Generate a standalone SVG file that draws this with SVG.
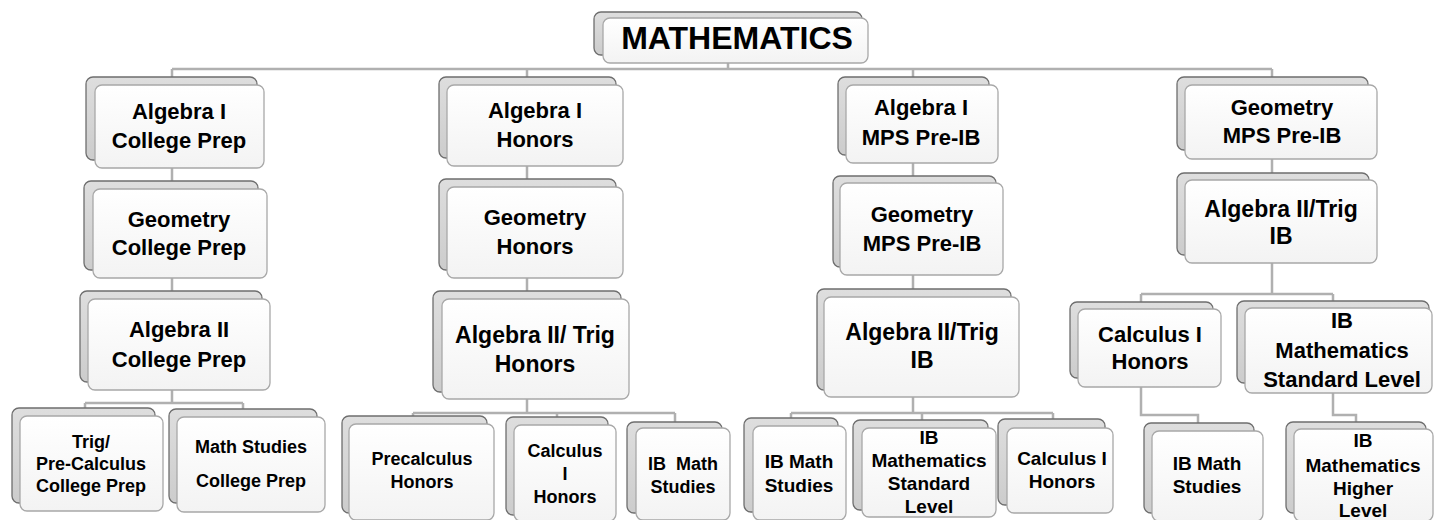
<svg xmlns="http://www.w3.org/2000/svg" width="1434" height="520" viewBox="0 0 1434 520">
<defs>
<linearGradient id="gb" x1="0" y1="0" x2="0" y2="1"><stop offset="0" stop-color="#dedede"/><stop offset="1" stop-color="#cccccc"/></linearGradient>
<linearGradient id="gf" x1="0" y1="0" x2="0" y2="1"><stop offset="0" stop-color="#ffffff"/><stop offset="1" stop-color="#f3f3f3"/></linearGradient>
<style>
.bk{fill:url(#gb);stroke:#6e6e6e;stroke-width:1.3}
.fr{fill:url(#gf);stroke:#a8a8a8;stroke-width:1.3}
.t{font-family:"Liberation Sans",Arial,sans-serif;font-weight:bold;fill:#000;text-anchor:middle}
.s22{font-size:22px}.s23{font-size:23px}.s18{font-size:18px}.s19{font-size:19px}
.c{fill:none;stroke:#b0b0b0;stroke-width:2.5}
</style>
</defs>
<rect width="1434" height="520" fill="#fff"/>
<g id="connectors" class="c">
<path d="M728 63V69M172 69H1272M172 69V77M527 69V77M913 69V77M1272 69V77"/>
<path d="M172 168V181M172 278V291M172 390V403M85 403H243M85 403V408M243 403V409"/>
<path d="M527 166V179M527 278V291M527 399V413M413 413H675M413 413V416M557 413V417M675 413V422"/>
<path d="M913 163V176M913 275V289M913 397V413M791 413H1053M791 413V418M922 413V420M1053 413V419"/>
<path d="M1272 159V173M1272 263V294M1141 294H1333M1141 294V302M1333 294V301"/>
<path d="M1141 387V415H1198V423M1333 393V415H1356V422"/>
</g>
<g id="n-math"><rect class="bk" x="594" y="12" width="268" height="43" rx="7"/><rect class="fr" x="603" y="18" width="265" height="45" rx="7"/><text class="t" x="737" y="49" font-size="32">MATHEMATICS</text></g>

<g id="n-alg1-cp"><rect class="bk" x="86" y="77" width="171" height="83" rx="7"/><rect class="fr" x="95" y="85" width="169" height="83" rx="7"/><text class="t s22"><tspan x="179" y="119">Algebra I</tspan><tspan x="179" y="148">College Prep</tspan></text></g>
<g id="n-geo-cp"><rect class="bk" x="84" y="181" width="174" height="89" rx="7"/><rect class="fr" x="93" y="189" width="174" height="89" rx="7"/><text class="t s22"><tspan x="179" y="227">Geometry</tspan><tspan x="179" y="255">College Prep</tspan></text></g>
<g id="n-alg2-cp"><rect class="bk" x="80" y="291" width="182" height="91" rx="7"/><rect class="fr" x="88" y="299" width="182" height="91" rx="7"/><text class="t s22"><tspan x="179" y="337">Algebra II</tspan><tspan x="179" y="367">College Prep</tspan></text></g>
<g id="n-trig-cp"><rect class="bk" x="12" y="408" width="143" height="95" rx="7"/><rect class="fr" x="20" y="416" width="143" height="95" rx="7"/><text class="t s18"><tspan x="91" y="448">Trig/</tspan><tspan x="91" y="470">Pre-Calculus</tspan><tspan x="91" y="492">College Prep</tspan></text></g>
<g id="n-ms-cp"><rect class="bk" x="169" y="409" width="148" height="94" rx="7"/><rect class="fr" x="177" y="417" width="148" height="95" rx="7"/><text class="t s18"><tspan x="251" y="453">Math Studies</tspan><tspan x="251" y="487">College Prep</tspan></text></g>

<g id="n-alg1-h"><rect class="bk" x="439" y="77" width="177" height="81" rx="7"/><rect class="fr" x="447" y="85" width="176" height="81" rx="7"/><text class="t s22"><tspan x="535" y="118">Algebra I</tspan><tspan x="535" y="147">Honors</tspan></text></g>
<g id="n-geo-h"><rect class="bk" x="439" y="179" width="177" height="91" rx="7"/><rect class="fr" x="447" y="187" width="176" height="91" rx="7"/><text class="t s22"><tspan x="535" y="225">Geometry</tspan><tspan x="535" y="254">Honors</tspan></text></g>
<g id="n-alg2-h"><rect class="bk" x="433" y="291" width="188" height="101" rx="7"/><rect class="fr" x="442" y="299" width="187" height="100" rx="7"/><text class="t s23"><tspan x="535" y="343">Algebra II/ Trig</tspan><tspan x="535" y="372">Honors</tspan></text></g>
<g id="n-precalc-h"><rect class="bk" x="342" y="416" width="145" height="97" rx="7"/><rect class="fr" x="349" y="424" width="145" height="96" rx="7"/><text class="t s18"><tspan x="422" y="465">Precalculus</tspan><tspan x="422" y="488">Honors</tspan></text></g>
<g id="n-calc-h2"><rect class="bk" x="506" y="417" width="102" height="98" rx="7"/><rect class="fr" x="514" y="425" width="102" height="96" rx="7"/><text class="t s18"><tspan x="565" y="457">Calculus</tspan><tspan x="565" y="480">I</tspan><tspan x="565" y="503">Honors</tspan></text></g>
<g id="n-ibms2"><rect class="bk" x="627" y="422" width="95" height="91" rx="7"/><rect class="fr" x="636" y="428" width="94" height="92" rx="7"/><text class="t s18" xml:space="preserve"><tspan x="683" y="470">IB  Math</tspan><tspan x="683" y="493">Studies</tspan></text></g>

<g id="n-alg1-m"><rect class="bk" x="838" y="77" width="151" height="78" rx="7"/><rect class="fr" x="846" y="85" width="152" height="78" rx="7"/><text class="t s22"><tspan x="921" y="115">Algebra I</tspan><tspan x="921" y="145">MPS Pre-IB</tspan></text></g>
<g id="n-geo-m"><rect class="bk" x="833" y="176" width="163" height="91" rx="7"/><rect class="fr" x="840" y="183" width="163" height="92" rx="7"/><text class="t s22"><tspan x="922" y="222">Geometry</tspan><tspan x="922" y="251">MPS Pre-IB</tspan></text></g>
<g id="n-alg2-ib3"><rect class="bk" x="817" y="289" width="194" height="101" rx="7"/><rect class="fr" x="824" y="297" width="195" height="100" rx="7"/><text class="t s23"><tspan x="922" y="340">Algebra II/Trig</tspan><tspan x="922" y="368">IB</tspan></text></g>
<g id="n-ibms3"><rect class="bk" x="744" y="418" width="94" height="94" rx="7"/><rect class="fr" x="753" y="426" width="93" height="94" rx="7"/><text class="t s19"><tspan x="799" y="468">IB Math</tspan><tspan x="799" y="492">Studies</tspan></text></g>
<g id="n-ibsl3"><rect class="bk" x="853" y="420" width="135" height="90" rx="7"/><rect class="fr" x="862" y="428" width="134" height="89" rx="7"/><text class="t s19"><tspan x="929" y="444">IB</tspan><tspan x="929" y="467">Mathematics</tspan><tspan x="929" y="490">Standard</tspan><tspan x="929" y="513">Level</tspan></text></g>
<g id="n-calc-h3"><rect class="bk" x="998" y="419" width="107" height="86" rx="7"/><rect class="fr" x="1007" y="428" width="106" height="85" rx="7"/><text class="t s19"><tspan x="1062" y="465">Calculus I</tspan><tspan x="1062" y="488">Honors</tspan></text></g>

<g id="n-geo-m4"><rect class="bk" x="1177" y="77" width="191" height="73" rx="7"/><rect class="fr" x="1185" y="85" width="192" height="74" rx="7"/><text class="t s22"><tspan x="1282" y="115">Geometry</tspan><tspan x="1282" y="143">MPS Pre-IB</tspan></text></g>
<g id="n-alg2-ib4"><rect class="bk" x="1177" y="173" width="192" height="82" rx="7"/><rect class="fr" x="1185" y="180" width="192" height="83" rx="7"/><text class="t s23"><tspan x="1281" y="217">Algebra II/Trig</tspan><tspan x="1281" y="244">IB</tspan></text></g>
<g id="n-calc-h4"><rect class="bk" x="1070" y="302" width="143" height="76" rx="7"/><rect class="fr" x="1078" y="309" width="143" height="78" rx="7"/><text class="t s22"><tspan x="1150" y="342">Calculus I</tspan><tspan x="1150" y="369">Honors</tspan></text></g>
<g id="n-ibsl4"><rect class="bk" x="1237" y="301" width="192" height="82" rx="7"/><rect class="fr" x="1245" y="308" width="187" height="85" rx="7"/><text class="t s22"><tspan x="1342" y="328">IB</tspan><tspan x="1342" y="358">Mathematics</tspan><tspan x="1342" y="387">Standard Level</tspan></text></g>
<g id="n-ibms4"><rect class="bk" x="1144" y="423" width="110" height="90" rx="7"/><rect class="fr" x="1152" y="431" width="111" height="90" rx="7"/><text class="t s19"><tspan x="1207" y="470">IB Math</tspan><tspan x="1207" y="493">Studies</tspan></text></g>
<g id="n-ibhl"><rect class="bk" x="1286" y="422" width="140" height="91" rx="7"/><rect class="fr" x="1294" y="429" width="139" height="92" rx="7"/><text class="t s19"><tspan x="1363" y="447">IB</tspan><tspan x="1363" y="472">Mathematics</tspan><tspan x="1363" y="495">Higher</tspan><tspan x="1363" y="517">Level</tspan></text></g>
</svg>
